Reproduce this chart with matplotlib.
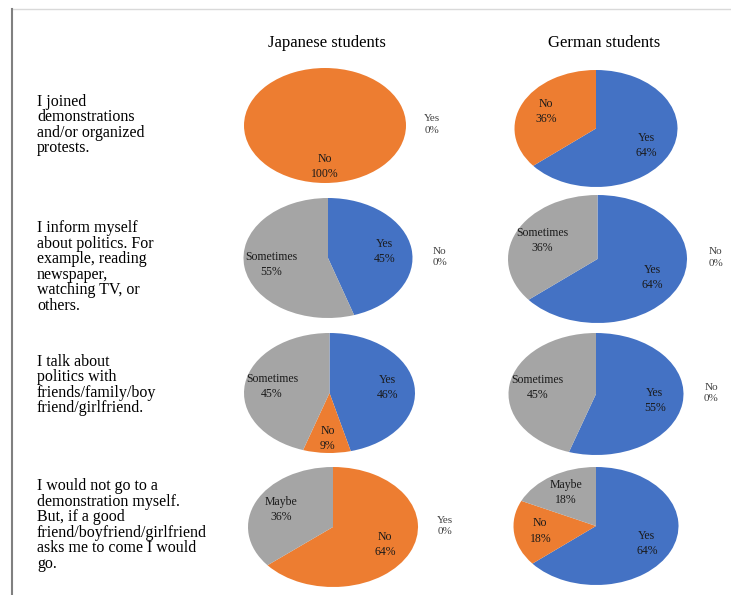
import numpy as np
import matplotlib
matplotlib.use("Agg")
import matplotlib.pyplot as plt
from matplotlib.lines import Line2D

plt.rcParams['font.family'] = ['Liberation Serif', 'DejaVu Serif']

W, H = 731, 595

groups = ["Japanese students", "German students"]
questions = [
    "I joined\ndemonstrations\nand/or organized\nprotests.",
    "I inform myself\nabout politics. For\nexample, reading\nnewspaper,\nwatching TV, or\nothers.",
    "I talk about\npolitics with\nfriends/family/boy\nfriend/girlfriend.",
    "I would not go to a\ndemonstration myself.\nBut, if a good\nfriend/boyfriend/girlfriend\nasks me to come I would\ngo.",
]
answers = [
    ["Yes", "No"],
    ["Yes", "No", "Sometimes"],
    ["Yes", "No", "Sometimes"],
    ["Yes", "No", "Maybe"],
]
japan = [[0, 100], [45, 0, 55], [46, 9, 45], [0, 64, 36]]
germany = [[64, 36], [64, 0, 36], [55, 0, 45], [64, 18, 18]]

colors = {"Yes": "#4472C4", "No": "#ED7D31", "Sometimes": "#A5A5A5", "Maybe": "#A5A5A5"}

# pie boxes in pixels: centre x, centre y, half width, half height
jp_boxes = [(325, 125.5, 81, 57.5), (328, 258, 84.5, 60), (329.5, 393, 85.5, 60), (333, 527, 85, 60)]
de_boxes = [(596, 128.5, 81.5, 58.5), (597.5, 259, 89.5, 64), (596, 394, 87.5, 61), (596, 526, 82.5, 59)]
row_mid = [125, 267, 385, 525]

fig = plt.figure(figsize=(W / 100, H / 100), dpi=100)


def pie_axes(box):
    cx, cy, rx, ry = box
    return fig.add_axes([(cx - rx) / W, 1 - (cy + ry) / H, 2 * rx / W, 2 * ry / H])


def draw_pie(ax, labels, values):
    wedges, _ = ax.pie(values, colors=[colors[l] for l in labels], startangle=90,
                       counterclock=False, wedgeprops=dict(linewidth=0))
    ax.set_xlim(-1, 1)
    ax.set_ylim(-1, 1)
    ax.set_aspect('auto')
    ax.axis('off')
    for w, lab, v in zip(wedges, labels, values):
        txt = f"{lab}\n{v}%"
        if v == 0:
            ax.text(1.32, 0.02, txt, ha='center', va='center', fontsize=8,
                    color='#404040', linespacing=1.35)
            continue
        ang = np.deg2rad((w.theta1 + w.theta2) / 2)
        r = 0.68
        if v < 12:
            r = 0.76
        x, y = r * np.cos(ang), r * np.sin(ang)
        if v == 100:
            x, y = 0.0, -0.72
        ax.text(x, y, txt, ha='center', va='center', fontsize=8.5,
                color='#1a1a1a', linespacing=1.35)


for i in range(4):
    draw_pie(pie_axes(jp_boxes[i]), answers[i], japan[i])
    draw_pie(pie_axes(de_boxes[i]), answers[i], germany[i])
    fig.text(37 / W, 1 - row_mid[i] / H, questions[i], ha='left', va='center',
             fontsize=11.5, linespacing=0.96, color='black')

fig.text(327 / W, 1 - 43 / H, groups[0], ha='center', va='center', fontsize=12)
fig.text(604 / W, 1 - 43 / H, groups[1], ha='center', va='center', fontsize=12)

# frame lines of the original figure
fig.add_artist(Line2D([12 / W, 1], [1 - 9 / H, 1 - 9 / H], transform=fig.transFigure,
                      color='#d9d9d9', lw=1))
fig.add_artist(Line2D([12 / W, 12 / W], [0, 1 - 9 / H], transform=fig.transFigure,
                      color='#808080', lw=1.5))

fig.savefig('out.png', dpi=100)
